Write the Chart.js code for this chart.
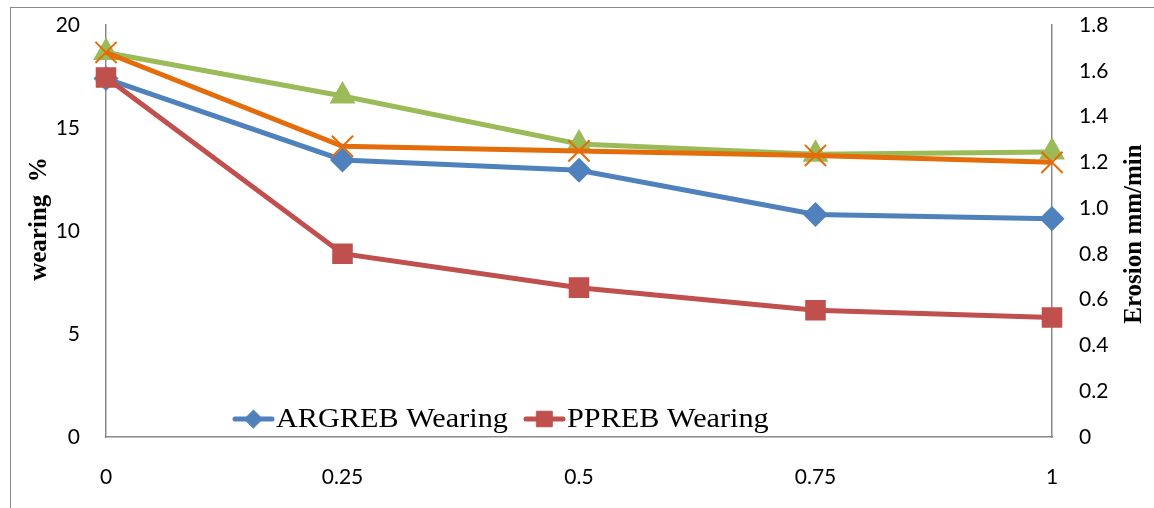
<!DOCTYPE html>
<html>
<head>
<meta charset="utf-8">
<script src="https://cdn.jsdelivr.net/npm/chart.js@4.4.1/dist/chart.umd.min.js"></script>
<style>
  html, body { margin: 0; padding: 0; background: #fff; }
  #wrap { position: relative; width: 1154px; height: 508px; overflow: hidden; }
  #frame { position: absolute; left: 10px; top: 7px; width: 1150px; height: 520px; border: 1.5px solid #8a8a8a; }
  canvas { position: absolute; left: 0; top: -12px; }
</style>
</head>
<body>
<div id="wrap">
  <div id="frame"></div>
  <canvas id="canvas" width="1154" height="520"></canvas>
</div>
<script>
// x軸のカテゴリ
var categories = ['0', '0.25', '0.5', '0.75', '1'];

// 摩耗率 (%) - 左軸
var argrebWearing = [17.4, 13.45, 12.95, 10.8, 10.6];
var ppreWearing   = [17.45, 8.9, 7.25, 6.15, 5.8];

// エロージョン (mm/min) - 右軸
var argrebErosion = [1.68, 1.49, 1.28, 1.235, 1.245];
var ppreErosion   = [1.68, 1.27, 1.25, 1.23, 1.2];

var leftTicks  = [0, 5, 10, 15, 20];
var rightTicks = [0, 0.2, 0.4, 0.6, 0.8, 1, 1.2, 1.4, 1.6, 1.8];

var blue = '#4f81bd', red = '#c0504d', green = '#9bbb59', orange = '#e46c0a';
var axisGray = '#8a8a8a';
var tickFont = { family: 'Lato', size: 21 };

// 凡例 (プロット内の下側) と軸タイトル
var overlayPlugin = {
  id: 'overlay',
  afterDraw: function(chart) {
    var ctx = chart.ctx;
    var ca = chart.chartArea;
    ctx.save();
    // 軸タイトル
    ctx.fillStyle = '#000';
    ctx.font = 'bold 25px "Liberation Serif"';
    ctx.textAlign = 'center';
    ctx.textBaseline = 'middle';
    ctx.translate(40, 231);
    ctx.rotate(-Math.PI / 2);
    ctx.fillText('wearing  %', 0, 0);
    ctx.restore();
    ctx.save();
    ctx.font = 'bold 25px "Liberation Serif"';
    ctx.textAlign = 'center';
    ctx.textBaseline = 'middle';
    ctx.fillStyle = '#000';
    ctx.translate(1135, 246);
    ctx.rotate(-Math.PI / 2);
    ctx.fillText('Erosion mm/min', 0, 0);
    ctx.restore();

    // 凡例 (最初の2系列のみ)
    var items = [{ i: 0, x: 235 }, { i: 1, x: 526 }];
    var ly = ca.bottom - 18;
    items.forEach(function(it) {
      var ds = chart.data.datasets[it.i];
      ctx.save();
      ctx.strokeStyle = ds.borderColor;
      ctx.fillStyle = ds.borderColor;
      ctx.lineWidth = 5;
      ctx.lineCap = 'round';
      ctx.beginPath();
      ctx.moveTo(it.x, ly);
      ctx.lineTo(it.x + 37, ly);
      ctx.stroke();
      ctx.lineWidth = 1;
      Chart.helpers.drawPoint(ctx, {
        pointStyle: ds.pointStyle,
        radius: ds.pointRadius,
        borderWidth: 1
      }, it.x + 18.5, ly);
      ctx.fillStyle = '#000';
      ctx.font = '27px "Liberation Serif"';
      ctx.textBaseline = 'middle';
      ctx.translate(it.x + 41, ly);
      ctx.scale(1.12, 1);
      ctx.fillText(ds.label, 0, 1);
      ctx.restore();
    });
  }
};

window.onload = function() {
  var ctx = document.getElementById('canvas').getContext('2d');
  window.myChart = new Chart(ctx, {
    type: 'line',
    data: {
      labels: categories,
      datasets: [
        {
          label: 'ARGREB Wearing',
          data: argrebWearing,
          yAxisID: 'y',
          order: 3,
          borderColor: blue,
          backgroundColor: blue,
          pointBackgroundColor: blue,
          pointBorderColor: blue,
          pointStyle: 'rectRot',
          pointRadius: 9,
          borderWidth: 5,
          tension: 0
        },
        {
          label: 'PPREB Wearing',
          data: ppreWearing,
          yAxisID: 'y',
          order: 2,
          borderColor: red,
          backgroundColor: red,
          pointBackgroundColor: red,
          pointBorderColor: red,
          pointStyle: 'rect',
          pointRadius: 11,
          borderWidth: 5,
          tension: 0
        },
        {
          label: 'ARGREB Erosion',
          data: argrebErosion,
          yAxisID: 'y1',
          order: 1,
          borderColor: green,
          backgroundColor: green,
          pointBackgroundColor: green,
          pointBorderColor: green,
          pointStyle: 'triangle',
          pointRadius: 10,
          borderWidth: 5,
          tension: 0
        },
        {
          label: 'PPREB Erosion',
          data: ppreErosion,
          yAxisID: 'y1',
          order: 0,
          borderColor: orange,
          backgroundColor: orange,
          pointBackgroundColor: orange,
          pointBorderColor: orange,
          pointStyle: 'crossRot',
          pointRadius: 15,
          pointBorderWidth: 2,
          borderWidth: 5,
          tension: 0
        }
      ]
    },
    options: {
      responsive: false,
      animation: false,
      layout: { padding: { top: 37, left: 0, right: 0, bottom: 0 } },
      plugins: {
        legend: { display: false },
        tooltip: { enabled: false }
      },
      scales: {
        x: {
          type: 'category',
          offset: false,
          grid: { display: false },
          border: { display: true, color: axisGray, width: 1.5 },
          ticks: { color: '#000', font: tickFont, padding: 20, maxRotation: 0 },
          afterFit: function(s) { s.height = 71; }
        },
        y: {
          position: 'left',
          min: 0,
          max: 20,
          afterBuildTicks: function(s) { s.ticks = leftTicks.map(function(v) { return { value: v }; }); },
          grid: { display: false },
          border: { display: true, color: axisGray, width: 1.5 },
          ticks: { color: '#000', font: tickFont, padding: 18 },
          afterFit: function(s) { s.width = 106; }
        },
        y1: {
          position: 'right',
          min: 0,
          max: 1.8,
          afterBuildTicks: function(s) { s.ticks = rightTicks.map(function(v) { return { value: v }; }); },
          grid: { display: false },
          border: { display: true, color: axisGray, width: 1.5 },
          ticks: { color: '#000', font: tickFont, padding: 19 },
          afterFit: function(s) { s.width = 102; }
        }
      }
    },
    plugins: [overlayPlugin]
  });
};
</script>
</body>
</html>
